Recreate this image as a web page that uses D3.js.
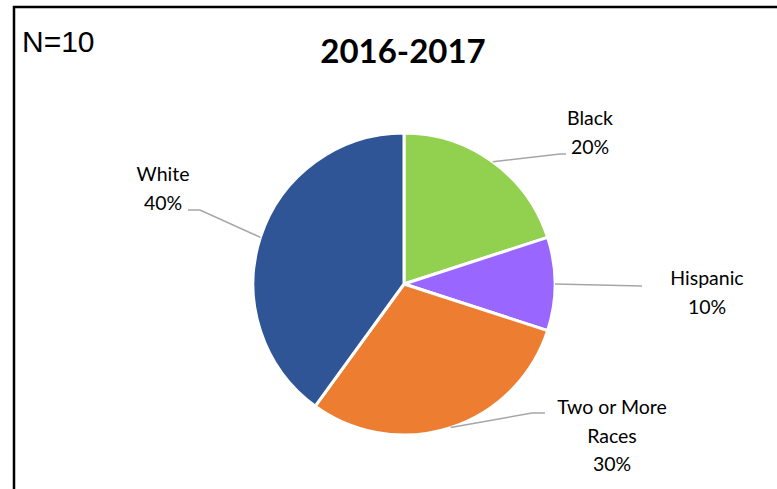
<!DOCTYPE html>
<html>
<head>
<meta charset="utf-8">
<script src="https://cdn.jsdelivr.net/npm/d3@7"></script>
<style>
  body { margin: 0; background: #fff; }
  svg { display: block; }
</style>
</head>
<body>
<script>
// data
var categories = ["Black", "Hispanic", "Two or More Races", "White"];
var values = [20, 10, 30, 40];
var colours = ["#92D050", "#9966FF", "#ED7D31", "#2F5597"];
var title = "2016-2017";
var nLabel = "N=10";

// label text lines + where the label block sits (layout only)
var labelLines = [["Black"], ["Hispanic"], ["Two or More", "Races"], ["White"]];
var labelPos = [
    {x: 590, y: 125, leg: [[560, 154], [566, 154]]},
    {x: 707, y: 285, leg: [[642, 286]]},
    {x: 612, y: 414, leg: [[532, 413], [545, 413]]},
    {x: 163, y: 181, leg: [[200, 210], [188, 210]]}
];

var width = 777, height = 489;
var cx = 404, cy = 284, radius = 151;

var svg = d3.select("body").append("svg")
    .attr("width", width)
    .attr("height", height);

// frame (only top + left edges show in the crop)
svg.append("path")
    .attr("d", "M14," + height + "V7H" + width)
    .attr("fill", "none")
    .attr("stroke", "#000")
    .attr("stroke-width", 2.5);

svg.append("text")
    .attr("x", 22).attr("y", 52)
    .style("font-family", "Liberation Sans, Arial, sans-serif")
    .style("font-size", "30px")
    .attr("fill", "#000")
    .text(nLabel);

svg.append("text")
    .attr("x", 403).attr("y", 63)
    .attr("text-anchor", "middle")
    .style("font-family", "Lato, sans-serif")
    .style("font-weight", "bold")
    .style("font-size", "33px")
    .attr("fill", "#000")
    .text(title);

var pie = d3.pie().sort(null).value(function(d) { return d; });
var arcs = pie(values);
var arc = d3.arc().innerRadius(0).outerRadius(radius);

var g = svg.append("g").attr("transform", "translate(" + cx + "," + cy + ")");

g.selectAll("path.slice").data(arcs).enter()
    .append("path")
    .attr("class", "slice")
    .attr("d", arc)
    .attr("fill", function(d, i) { return colours[i]; })
    .attr("stroke", "#fff")
    .attr("stroke-width", 3)
    .attr("stroke-linejoin", "round");

// leader lines, starting at the slice edge at its mid angle
svg.selectAll("polyline.leader").data(arcs).enter()
    .append("polyline")
    .attr("class", "leader")
    .attr("points", function(d, i) {
        var a = (d.startAngle + d.endAngle) / 2;
        var pts = [[cx + radius * Math.sin(a), cy - radius * Math.cos(a)]].concat(labelPos[i].leg);
        return pts.map(function(p) { return p.join(","); }).join(" ");
    })
    .attr("fill", "none")
    .attr("stroke", "#A6A6A6")
    .attr("stroke-width", 1.5);

// labels
var lab = svg.selectAll("text.label").data(arcs).enter()
    .append("text")
    .attr("class", "label")
    .attr("text-anchor", "middle")
    .style("font-family", "Lato, sans-serif")
    .style("font-size", "19.5px")
    .attr("fill", "#000");

lab.each(function(d, i) {
    var t = d3.select(this);
    var lines = labelLines[i].concat([values[i] + "%"]);
    lines.forEach(function(s, k) {
        t.append("tspan")
            .attr("x", labelPos[i].x)
            .attr("y", labelPos[i].y + k * 28.5)
            .text(s);
    });
});
</script>
</body>
</html>
